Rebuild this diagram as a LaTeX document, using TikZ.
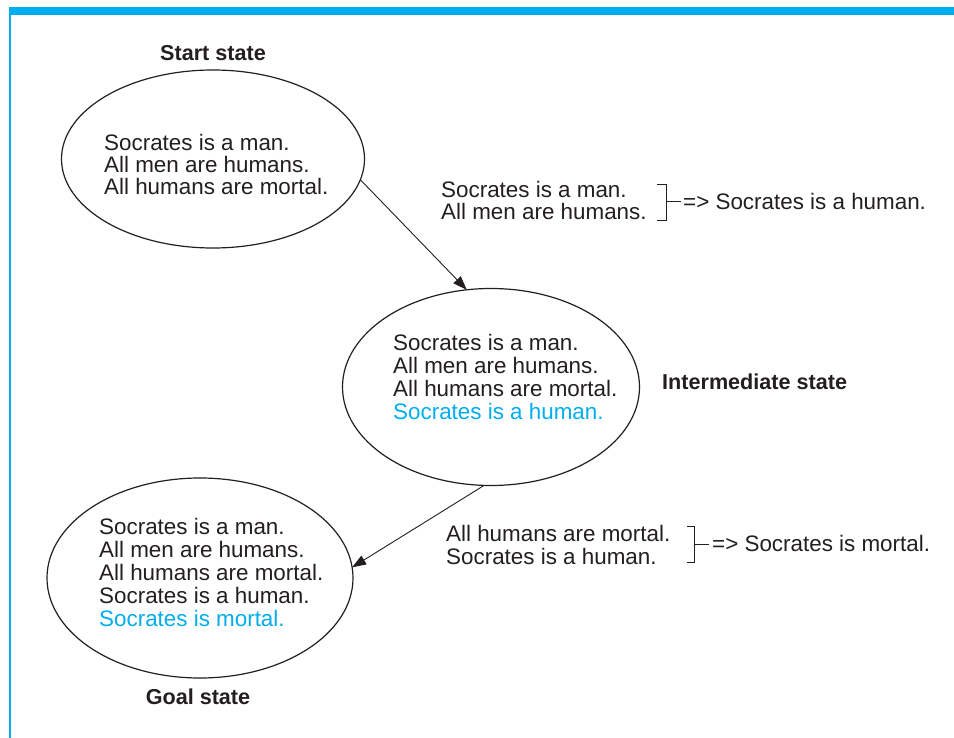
\documentclass[tikz,border=0pt]{standalone}
\usepackage{fontspec}
\setmainfont{Liberation Sans}
\usetikzlibrary{shapes.geometric,arrows.meta}
\definecolor{cyanbar}{HTML}{00AEEF}
\definecolor{ink}{HTML}{231F20}
\begin{document}
\begin{tikzpicture}[x=1pt,y=-1pt,
  state/.style={ellipse,draw=ink,line width=1.2pt,inner sep=0pt,outer sep=0pt},
  body/.style={anchor=base west,align=left,inner sep=0pt,text=ink,font=\fontsize{22.4}{22}\selectfont},
  statelabel/.style={inner sep=0pt,text=ink,font=\fontsize{21.6}{22}\selectfont\bfseries},
  link/.style={draw=ink,line width=0.9pt,-{Triangle[length=14pt,width=10pt]}},
  brk/.style={draw=ink,line width=1pt}]
\useasboundingbox (0,0) rectangle (954,738);
\fill[white] (0,0) rectangle (954,738);
\fill[cyanbar] (9,7) rectangle (954,15);
\draw[cyanbar,line width=1.5pt] (9.75,15) -- (9.75,738);

% states
\node[state,minimum width=303pt,minimum height=178pt] (start) at (213,159) {};
\node[state,minimum width=297pt,minimum height=197pt] (inter) at (491,387) {};
\node[state,minimum width=306pt,minimum height=200pt] (goal) at (200,578) {};

% state contents (anchor = baseline of last line)
\node[body] (t1) at (104,195) {Socrates is a man.\\All men are humans.\\All humans are mortal.};
\node[body,font=\fontsize{22.4}{22.7}\selectfont] (t2) at (393,419) {Socrates is a man.\\All men are humans.\\All humans are mortal.\\\textcolor{cyanbar}{Socrates is a human.}};
\node[body,font=\fontsize{22.4}{23}\selectfont] (t3) at (99,626) {Socrates is a man.\\All men are humans.\\All humans are mortal.\\Socrates is a human.\\\textcolor{cyanbar}{Socrates is mortal.}};

% labels
\node[statelabel,anchor=base] (l1) at (213,61) {Start state};
\node[statelabel,anchor=base west] (l2) at (662,389) {Intermediate state};
\node[statelabel,anchor=base] (l3) at (198,704) {Goal state};

% transitions
\draw[link] (start.-8) -- (inter.104);
\draw[link] (inter.-94) -- (goal.4);

% inference 1
\node[body] (p1) at (441,220) {Socrates is a man.\\All men are humans.};
\coordinate (b1) at (666,202);
\draw[brk] (657,185) -- (666,185) -- (666,221) -- (657,221);
\node[body,anchor=base west] (r1) at (683,210) {=> Socrates is a human.};
\draw[brk] (b1) -- (681,202);

% inference 2
\node[body,font=\fontsize{22.4}{23}\selectfont] (p2) at (446,564) {All humans are mortal.\\Socrates is a human.};
\coordinate (b2) at (694,544);
\draw[brk] (687,526) -- (694,526) -- (694,562) -- (687,562);
\node[body,anchor=base west] (r2) at (712,551) {=> Socrates is mortal.};
\draw[brk] (b2) -- (709,544);
\end{tikzpicture}
\end{document}
